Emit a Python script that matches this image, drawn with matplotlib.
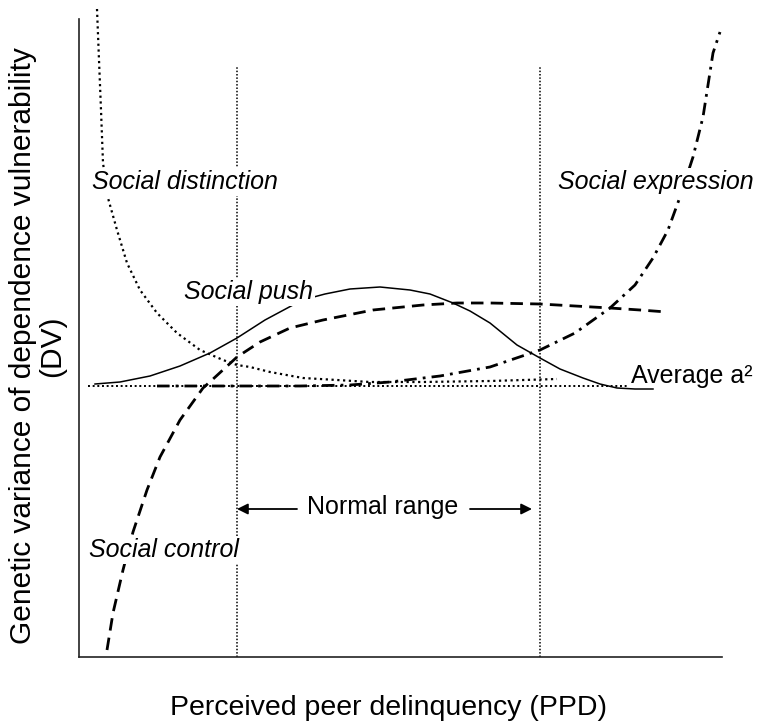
import matplotlib.pyplot as plt

plt.rcParams['font.family'] = ['Liberation Sans', 'DejaVu Sans']

# conceptual units (no numeric scale on the axes)
push_x = [16, 41, 71, 101, 131, 158, 186, 214, 231, 246, 271, 301, 331, 351, 374,
          391, 411, 438, 461, 481, 504, 521, 538, 556, 574]
push_y = [273, 275, 281, 291, 304, 319, 337, 352, 359, 363, 368, 370, 367, 363, 354,
          346, 334, 312, 299, 288, 279, 273, 269, 268, 268]

control_x = [28, 34, 44, 54, 68, 81, 101, 124, 133, 158, 181, 211, 244, 294, 344,
             378, 411, 461, 496, 531, 561, 588]
control_y = [7, 44, 87, 125, 167, 200, 237, 269, 277, 300, 315, 329, 337, 347, 352,
             354, 354, 353, 351, 349, 347, 345]

expr_x = [78, 121, 171, 221, 271, 311, 361, 411, 461, 496, 531, 556, 574, 589, 601,
          614, 624, 634, 641]
expr_y = [271, 271, 271, 271, 272, 275, 281, 290, 307, 324, 349, 372, 399, 427, 460,
          500, 540, 604, 625]

dist_x = [18, 20, 22, 24, 29, 38, 48, 61, 78, 98, 121, 144, 158, 171, 191, 224, 258,
          291, 344, 411, 478]
dist_y = [648, 597, 547, 494, 459, 427, 394, 367, 344, 324, 307, 297, 292, 290, 285,
          279, 277, 275, 275, 276, 278]

avg_x = [9, 548]
avg_y = [271, 271]

normal_lo, normal_hi = 158, 461
range_top = 590
arrow_y = 148

fig = plt.figure(figsize=(7.66, 7.28), dpi=100)
ax = fig.add_axes([79 / 766, 71 / 728, 643 / 766, 650 / 728])
ax.set_xlim(0, 643)
ax.set_ylim(0, 650)
for s in ['top', 'right']:
    ax.spines[s].set_visible(False)
ax.spines['left'].set_bounds(0, 638)
for s in ['left', 'bottom']:
    ax.spines[s].set_linewidth(1.2)
    ax.spines[s].set_color('#222222')
ax.set_xticks([])
ax.set_yticks([])

# normal range boundaries
for xv in [normal_lo, normal_hi]:
    ax.plot([xv, xv], [0, range_top], color='black', lw=1.1, ls=(0, (1, 1.2)), clip_on=False)

ax.plot(avg_x, avg_y, color='black', lw=1.4, ls=(0, (1, 1.4)), clip_on=False)
ax.plot(dist_x, dist_y, color='black', lw=1.6, ls=(0, (1, 1.6)), clip_on=False)
ax.plot(push_x, push_y, color='black', lw=1.1, clip_on=False)
ax.plot(control_x, control_y, color='black', lw=2.0, dashes=(4.5, 2.6), clip_on=False)
ax.plot(expr_x, expr_y, color='black', lw=2.0, dashes=(4.5, 2.2, 1, 2.2), clip_on=False)

box = dict(facecolor='white', edgecolor='none', pad=1.5)
lab = dict(fontsize=18, style='italic', ha='center', va='center', bbox=box, zorder=5)
ax.text(106, 475, 'Social distinction', **lab)
ax.text(577, 475, 'Social expression', **lab)
ax.text(169, 365, 'Social push', **lab)
ax.text(85, 107, 'Social control', **lab)
ax.text(613, 281, 'Average a\u00b2', fontsize=18, ha='center', va='center', zorder=5)
ax.text(304, arrow_y + 2, 'Normal range', fontsize=18, ha='center', va='center', zorder=5)

arr = dict(arrowstyle='-|>', color='black', lw=1.3, mutation_scale=16, shrinkA=0, shrinkB=0)
ax.annotate('', xy=(normal_lo, arrow_y), xytext=(218, arrow_y), arrowprops=arr)
ax.annotate('', xy=(453, arrow_y), xytext=(391, arrow_y), arrowprops=arr)

fig.text(388 / 766, 1 - 708 / 728, 'Perceived peer delinquency (PPD)',
         fontsize=20.5, ha='center', va='center')
fig.text(38 / 766, 1 - 346 / 728, 'Genetic variance of dependence vulnerability\n(DV)',
         fontsize=21.5, rotation=90, ha='center', va='center', multialignment='center',
         linespacing=1.05)

fig.savefig('out.png', dpi=100)
